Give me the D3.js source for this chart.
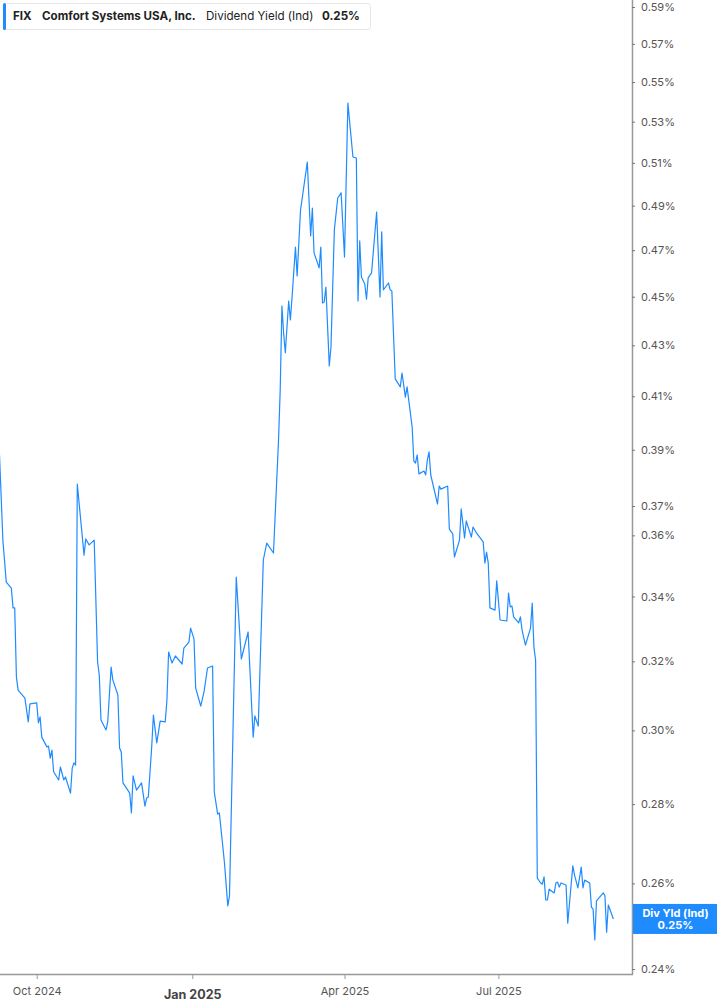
<!DOCTYPE html>
<html>
<head>
<meta charset="utf-8">
<script src="https://cdn.jsdelivr.net/npm/d3@7"></script>
<style>
body { margin: 0; background: #fff; font-family: Inter, "Noto Sans", sans-serif; }
</style>
</head>
<body>
<script>
// dividend yield readings (percent), one per date
const dates = [
  "2024-09-09","2024-09-11","2024-09-13","2024-09-16","2024-09-17","2024-09-18","2024-09-19","2024-09-20","2024-09-24","2024-09-26","2024-09-27",
  "2024-10-01","2024-10-02","2024-10-03","2024-10-04","2024-10-07","2024-10-08","2024-10-09","2024-10-10","2024-10-11",
  "2024-10-14","2024-10-15","2024-10-17","2024-10-18","2024-10-21","2024-10-22","2024-10-23","2024-10-24",
  "2024-10-25","2024-10-29","2024-10-30","2024-11-01","2024-11-04",
  "2024-11-06","2024-11-07","2024-11-08","2024-11-11","2024-11-12","2024-11-14","2024-11-15",
  "2024-11-18","2024-11-19","2024-11-20","2024-11-21","2024-11-25","2024-11-26","2024-11-27","2024-11-29",
  "2024-12-02","2024-12-04","2024-12-05","2024-12-06","2024-12-08","2024-12-09","2024-12-11","2024-12-13","2024-12-16","2024-12-17",
  "2024-12-18","2024-12-20","2024-12-22","2024-12-26","2024-12-27","2024-12-30","2024-12-31","2025-01-02",
  "2025-01-03","2025-01-06","2025-01-08","2025-01-10","2025-01-13","2025-01-14","2025-01-16","2025-01-17",
  "2025-01-20","2025-01-22","2025-01-23",
  "2025-01-27","2025-01-30","2025-02-03","2025-02-06","2025-02-07","2025-02-09","2025-02-12","2025-02-14","2025-02-18",
  "2025-02-21","2025-02-22","2025-02-23","2025-02-24","2025-02-25","2025-02-27","2025-02-28","2025-03-01","2025-03-03","2025-03-04","2025-03-06",
  "2025-03-10","2025-03-12","2025-03-13","2025-03-14","2025-03-17","2025-03-18","2025-03-19","2025-03-20","2025-03-21",
  "2025-03-23","2025-03-24","2025-03-26","2025-03-28","2025-03-30","2025-04-01","2025-04-03","2025-04-06","2025-04-08",
  "2025-04-09","2025-04-10","2025-04-11","2025-04-13","2025-04-14","2025-04-15","2025-04-17",
  "2025-04-20","2025-04-22","2025-04-23","2025-04-24","2025-04-27","2025-04-28","2025-04-29",
  "2025-05-01","2025-05-04","2025-05-05","2025-05-07","2025-05-08",
  "2025-05-11","2025-05-12","2025-05-13","2025-05-14","2025-05-15","2025-05-18","2025-05-19","2025-05-20","2025-05-21","2025-05-22",
  "2025-05-26","2025-05-27","2025-05-28","2025-06-01",
  "2025-06-02","2025-06-04","2025-06-05","2025-06-08","2025-06-09","2025-06-11","2025-06-12","2025-06-15","2025-06-16","2025-06-18",
  "2025-06-22","2025-06-23","2025-06-24","2025-06-25","2025-06-26","2025-06-29","2025-06-30",
  "2025-07-02","2025-07-06","2025-07-07","2025-07-08","2025-07-09","2025-07-10","2025-07-13","2025-07-14",
  "2025-07-15","2025-07-17","2025-07-20","2025-07-21","2025-07-22","2025-07-23",
  "2025-07-24","2025-07-26","2025-07-27","2025-07-28","2025-07-29","2025-07-30","2025-07-31",
  "2025-08-03","2025-08-04","2025-08-05","2025-08-06","2025-08-07","2025-08-10","2025-08-11",
  "2025-08-14","2025-08-15","2025-08-17","2025-08-19","2025-08-20","2025-08-21","2025-08-24",
  "2025-08-25","2025-08-26","2025-08-27","2025-08-28","2025-09-01","2025-09-02","2025-09-03","2025-09-04","2025-09-07"
]
const yields = [
  0.3881, 0.3584, 0.3446, 0.3427, 0.3364, 0.3364, 0.3153, 0.3115, 0.3092, 0.3024, 0.3075,
  0.3078, 0.3021, 0.3038, 0.2981, 0.2954, 0.2956, 0.2923, 0.2945, 0.2886,
  0.2864, 0.2899, 0.2864, 0.2872, 0.2829, 0.2896, 0.2910, 0.2904,
  0.3777, 0.3534, 0.3588, 0.3568, 0.3584,
  0.3198, 0.3159, 0.3029, 0.3001, 0.3024, 0.3183, 0.3145,
  0.3101, 0.2951, 0.2940, 0.2856, 0.2829, 0.2777, 0.2875, 0.2837,
  0.2856, 0.2795, 0.2816, 0.2819, 0.2954, 0.3043, 0.2965, 0.3026, 0.3024, 0.3086,
  0.3228, 0.3195, 0.3216, 0.3192, 0.3240, 0.3258, 0.3301, 0.3268,
  0.3121, 0.3069, 0.3112, 0.3180, 0.3186, 0.2832, 0.2774, 0.2777,
  0.2652, 0.2546, 0.2570,
  0.3462, 0.3207, 0.3289, 0.2981, 0.3041, 0.3012, 0.3518, 0.3574, 0.3541,
  0.3936, 0.4128, 0.4461, 0.4350, 0.4270, 0.4482, 0.4403, 0.4499, 0.4714, 0.4588, 0.4880,
  0.5104, 0.4763, 0.4889, 0.4688, 0.4623, 0.4714, 0.4474, 0.4478, 0.4541,
  0.4218, 0.4293, 0.4790, 0.4935, 0.4959, 0.4670, 0.5393, 0.5128, 0.5123,
  0.4482, 0.4741, 0.4584, 0.4554, 0.4490, 0.4580, 0.4601,
  0.4871, 0.4499, 0.4781, 0.4529, 0.4558, 0.4529, 0.4524,
  0.4167, 0.4136, 0.4190, 0.4097, 0.4136,
  0.3984, 0.3859, 0.3852, 0.3881, 0.3813, 0.3823, 0.3809, 0.3863, 0.3892, 0.3809,
  0.3707, 0.3770, 0.3759, 0.3770,
  0.3621, 0.3605, 0.3528, 0.3584, 0.3690, 0.3591, 0.3649, 0.3594, 0.3628, 0.3608,
  0.3578, 0.3508, 0.3544, 0.3508, 0.3364, 0.3357, 0.3450,
  0.3326, 0.3323, 0.3411, 0.3367, 0.3370, 0.3336, 0.3317, 0.3336,
  0.3295, 0.3249, 0.3301, 0.3379, 0.3243, 0.3204,
  0.2613, 0.2601, 0.2598, 0.2616, 0.2560, 0.2560, 0.2586,
  0.2577, 0.2601, 0.2603, 0.2591, 0.2601, 0.2596, 0.2505,
  0.2643, 0.2621, 0.2589, 0.2640, 0.2589, 0.2608, 0.2601,
  0.2543, 0.2538, 0.2466, 0.2558, 0.2577, 0.2570, 0.2484, 0.2548, 0.2515
]
const yTicks = [0.24, 0.26, 0.28, 0.30, 0.32, 0.34, 0.36, 0.37, 0.39, 0.41, 0.43, 0.45, 0.47, 0.49, 0.51, 0.53, 0.55, 0.57, 0.59]
const xTicks = ["2024-10-01", "2025-01-01", "2025-04-01", "2025-07-01"]
const xLabels = ["Oct 2024", "Jan 2025", "Apr 2025", "Jul 2025"]
const xDomain = ["2024-09-09", "2025-09-18"]
const yDomain = [0.24, 0.59]
const ticker = "FIX"
const company = "Comfort Systems USA, Inc."
const metric = "Dividend Yield (Ind)"
const lastLabel = "Div Yld (Ind)"
const lastValue = 0.25

const W = 717, H = 1005
const plotRight = 632, plotBottom = 974
const blue = "#1e8bff"
const parse = d3.timeParse("%Y-%m-%d")

const data = dates.map((d, i) => ({ date: parse(d), v: yields[i] }))

const svg = d3.select("body").append("svg")
    .attr("width", W)
    .attr("height", H)
    .style("display", "block")

const x = d3.scaleTime().domain(xDomain.map(parse)).range([-0.5, plotRight])
const y = d3.scaleLog().domain(yDomain).range([969, 7])

// line
svg.append("path")
    .datum(data)
    .attr("fill", "none")
    .attr("stroke", blue)
    .attr("stroke-width", 1.2)
    .attr("stroke-linejoin", "round")
    .attr("d", d3.line().x(d => x(d.date)).y(d => y(d.v)))

// right axis
const yAxis = d3.axisRight(y)
    .tickValues(yTicks)
    .tickSize(3)
    .tickPadding(6)
    .tickFormat(d => d.toFixed(2) + "%")

const gy = svg.append("g")
    .attr("transform", "translate(" + plotRight + ",0)")
    .call(yAxis)
gy.select(".domain").attr("d", "M0.5,0V" + (plotBottom + 0.5)).attr("stroke", "#999").attr("stroke-width", 1.5)
gy.selectAll(".tick line").attr("stroke", "#777")
gy.selectAll(".tick text")
    .attr("fill", "#555")
    .style("font-family", "Inter, sans-serif")
    .style("font-size", "11px")

// bottom axis
const xAxis = d3.axisBottom(x)
    .tickValues(xTicks.map(parse))
    .tickSize(5)
    .tickPadding(8)
    .tickFormat((d, i) => xLabels[i])

const gx = svg.append("g")
    .attr("transform", "translate(0," + plotBottom + ")")
    .call(xAxis)
gx.select(".domain").attr("d", "M0,0.5H" + (plotRight + 1)).attr("stroke", "#999").attr("stroke-width", 1.5)
gx.selectAll(".tick line").attr("stroke", "#999")
gx.selectAll(".tick text")
    .attr("fill", "#555")
    .style("font-family", "Inter, sans-serif")
    .style("font-size", "11px")
gx.selectAll(".tick text")
    .filter((d, i) => xLabels[i].startsWith("Jan"))
    .attr("dy", "0.95em")
    .style("font-weight", "bold")
    .style("font-size", "12.5px")
    .attr("fill", "#444")

// last value tag
const tag = svg.append("g").attr("transform", "translate(" + (plotRight + 1) + "," + (y(yields[yields.length - 1]) - 15) + ")")
tag.append("rect")
    .attr("width", W - plotRight - 1)
    .attr("height", 30)
    .attr("fill", blue)
tag.append("text")
    .attr("x", (W - plotRight) / 2)
    .attr("y", 13)
    .attr("text-anchor", "middle")
    .attr("fill", "#fff")
    .style("font-size", "11px")
    .style("font-weight", "bold")
    .text(lastLabel)
tag.append("text")
    .attr("x", (W - plotRight) / 2)
    .attr("y", 25)
    .attr("text-anchor", "middle")
    .attr("fill", "#fff")
    .style("font-size", "11px")
    .style("font-weight", "bold")
    .text(lastValue.toFixed(2) + "%")

// header box
const head = svg.append("g")
head.append("rect")
    .attr("x", 3.5).attr("y", 3.5)
    .attr("width", 367).attr("height", 26)
    .attr("rx", 3)
    .attr("fill", "#fff")
    .attr("stroke", "#e6e6e6")
head.append("rect")
    .attr("x", 3).attr("y", 3)
    .attr("width", 3).attr("height", 27)
    .attr("rx", 1.5)
    .attr("fill", blue)
const ht = head.append("text")
    .attr("y", 20)
    .style("font-size", "11.6px")
    .attr("fill", "#222")
ht.append("tspan").attr("x", 13).style("font-weight", "bold").text(ticker)
ht.append("tspan").attr("x", 42).style("font-weight", "bold").text(company)
ht.append("tspan").attr("x", 206).text(metric)
ht.append("tspan").attr("x", 322).style("font-weight", "bold").text(lastValue.toFixed(2) + "%")
</script>
</body>
</html>
